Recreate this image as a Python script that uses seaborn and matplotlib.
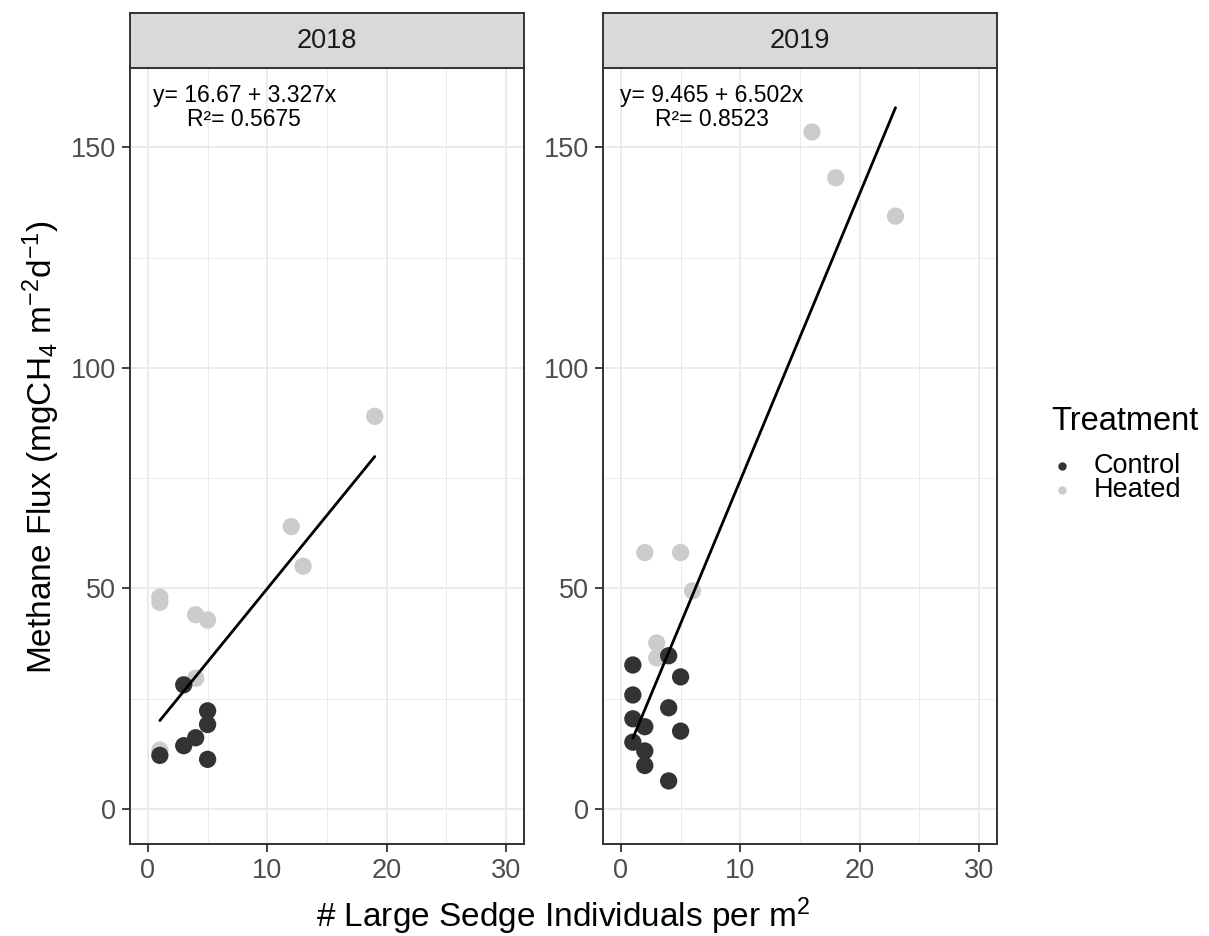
import numpy as np
import pandas as pd
import matplotlib
matplotlib.use("Agg")
import matplotlib.pyplot as plt
import seaborn as sns
from matplotlib.ticker import MultipleLocator
from matplotlib.lines import Line2D

# ---------------- data ----------------
years = ["2018", "2019"]
treatments = ["Control", "Heated"]

x_2018_control = [1, 3, 3, 4, 5, 5, 5]
y_2018_control = [12.1, 14.3, 28.1, 16.1, 11.2, 19.1, 22.2]
x_2018_heated = [1, 1, 1, 4, 4, 5, 12, 13, 19]
y_2018_heated = [48.0, 46.8, 13.3, 44.0, 29.6, 42.8, 64.0, 55.0, 89.0]

x_2019_control = [1, 1, 1, 1, 2, 2, 2, 4, 4, 4, 5, 5]
y_2019_control = [32.6, 25.8, 20.4, 15.1, 18.6, 13.1, 9.8, 34.7, 22.9, 6.3, 29.9, 17.6]
x_2019_heated = [2, 3, 3, 5, 6, 16, 18, 23]
y_2019_heated = [58.1, 37.6, 34.2, 58.1, 49.4, 153.5, 143.1, 134.4]

intercepts = [16.67, 9.465]
slopes = [3.327, 6.502]
r_squared = [0.5675, 0.8523]

x_ticks = [0, 10, 20, 30]
y_ticks = [0, 50, 100, 150]

colors = {"Control": "#333333", "Heated": "#CCCCCC"}

# ---------------- frame ----------------
rows = []
for yr, xs, ys, tr in [
    ("2018", x_2018_control, y_2018_control, "Control"),
    ("2018", x_2018_heated, y_2018_heated, "Heated"),
    ("2019", x_2019_control, y_2019_control, "Control"),
    ("2019", x_2019_heated, y_2019_heated, "Heated"),
]:
    for a, b in zip(xs, ys):
        rows.append({"Year": yr, "x": a, "y": b, "Treatment": tr})
df = pd.DataFrame(rows)

sns.set_theme(style="white")
plt.rcParams["font.family"] = ["Liberation Sans", "DejaVu Sans"]
plt.rcParams["mathtext.fontset"] = "custom"
plt.rcParams["mathtext.rm"] = "Liberation Sans"
plt.rcParams["mathtext.it"] = "Liberation Sans:italic"
plt.rcParams["mathtext.bf"] = "Liberation Sans:bold"

W, H = 1209, 936
fig = plt.figure(figsize=(W / 100, H / 100), dpi=100)

def px_axes(x0, y0, x1, y1):
    return fig.add_axes([x0 / W, 1 - y1 / H, (x1 - x0) / W, (y1 - y0) / H])

panel_x = [(130, 524), (603, 997)]
top, bottom = 68, 844
strip_top = 13
border_col = "#333333"

for i, yr in enumerate(years):
    x0, x1 = panel_x[i]
    ax = px_axes(x0, top, x1, bottom)
    sub = df[df["Year"] == yr]
    # heated first, then control on top
    for tr in ["Heated", "Control"]:
        s2 = sub[sub["Treatment"] == tr]
        sns.scatterplot(data=s2, x="x", y="y", color=colors[tr], s=155,
                        edgecolor="none", linewidth=0, legend=False, ax=ax, zorder=3)
    xs = np.array([sub["x"].min(), sub["x"].max()], dtype=float)
    sns.lineplot(x=xs, y=intercepts[i] + slopes[i] * xs, color="black",
                 linewidth=2.0, ax=ax, zorder=4)

    ax.set_xlim(-1.5, 31.5)
    ax.set_ylim(-8, 168)
    ax.set_xticks(x_ticks)
    ax.set_yticks(y_ticks)
    ax.xaxis.set_minor_locator(MultipleLocator(5))
    ax.yaxis.set_minor_locator(MultipleLocator(25))
    ax.grid(which="major", color="#EBEBEB", linewidth=1.4, zorder=0)
    ax.grid(which="minor", color="#EBEBEB", linewidth=0.7, zorder=0)
    ax.set_axisbelow(True)
    ax.tick_params(which="major", direction="out", length=5.8, width=1.3,
                   color=border_col, labelsize=19.5, labelcolor="#4D4D4D", pad=4.5,
                   bottom=True, left=True)
    ax.tick_params(which="minor", length=0)
    for sp in ax.spines.values():
        sp.set_color(border_col)
        sp.set_linewidth(1.4)
    ax.set_xlabel("")
    ax.set_ylabel("")
    ax.set_facecolor("white")

    txt = f"y= {intercepts[i]:.4g} + {slopes[i]:.4g}x\nR²= {r_squared[i]:.4g}"
    cx = 8.07 if i == 0 else 7.6
    ax.text(cx, 159.0, txt, ha="center", va="center", multialignment="center",
            fontsize=16.5, color="black", linespacing=1.08, zorder=5)

    sax = px_axes(x0, strip_top, x1, top)
    sax.set_facecolor("#D9D9D9")
    sax.set_xticks([])
    sax.set_yticks([])
    for sp in sax.spines.values():
        sp.set_color(border_col)
        sp.set_linewidth(1.4)
    sax.text(0.5, 0.5, yr, ha="center", va="center", fontsize=19.5,
             color="#1A1A1A", transform=sax.transAxes)

fig.text(563.5 / W, 1 - 927 / H, "# Large Sedge Individuals per m$^2$",
         ha="center", va="baseline", fontsize=24, color="black")
fig.text(52 / W, 1 - 447 / H, "Methane Flux (mgCH$_4$ m$^{-2}$d$^{-1}$)",
         ha="center", va="baseline", rotation=90, rotation_mode="anchor",
         fontsize=24, color="black")

# legend
fig.text(1051 / W, 1 - 421 / H, "Treatment", ha="left", va="center",
         fontsize=23.5, color="black")
for j, tr in enumerate(treatments):
    yy = 1 - (466 + 24 * j) / H
    fig.add_artist(Line2D([1062 / W], [yy], marker="o", markersize=5,
                          color=colors[tr], linestyle="none",
                          transform=fig.transFigure))
    fig.text(1094 / W, yy, tr, ha="left", va="center", fontsize=19.5, color="black")

fig.savefig("out.png", dpi=100, facecolor="white")
